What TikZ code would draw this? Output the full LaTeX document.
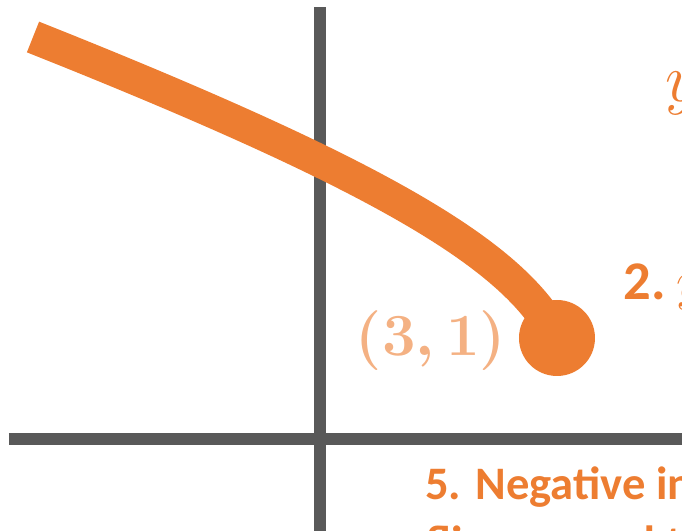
\RequirePackage{fix-cm}
\documentclass[tikz,border=0pt]{standalone}
\usepackage[no-math]{fontspec}
\setmainfont{Carlito}
\usepackage{tikz}
\usetikzlibrary{positioning}
\definecolor{axisgray}{HTML}{595959}
\definecolor{curveor}{HTML}{ED7D31}
\definecolor{pointor}{HTML}{F4B183}
\tikzset{
  axisline/.style ={draw=axisgray, line width=0.24cm},
  graphline/.style={draw=curveor, line width=0.66cm, line cap=butt},
  enddot/.style   ={circle, fill=curveor, minimum size=1.52cm, inner sep=0pt},
  ptlabel/.style  ={text=pointor, inner sep=0pt,
                    font=\fontsize{34}{38}\selectfont\boldmath},
  note/.style     ={text=curveor, inner sep=0pt, anchor=base west,
                    font=\fontsize{26.5}{31}\selectfont\bfseries},
  bignote/.style  ={note, font=\fontsize{31}{36}\selectfont\bfseries},
  ylab/.style     ={text=curveor, inner sep=0pt, anchor=base west,
                    font=\fontsize{39}{44}\selectfont},
}

\begin{document}
\begin{tikzpicture}
\useasboundingbox (-6.4,-1.84) rectangle (7.24,8.78);
\clip (-6.4,-1.84) rectangle (7.24,8.78);
% axes
\coordinate (xl) at (-6.22,0);
\coordinate (xr) at (7.6,0);
\coordinate (yb) at (0,-2.2);
\coordinate (yt) at (0,8.64);
\draw[axisline] (xl) -- (xr);
\draw[axisline] (yb) -- (yt);
% branch ending at the point (3,1)
\coordinate (start) at (-5.74,8.04);
\node[enddot] (endpt) at (4.74,2.02) {};
\draw[graphline] (start) .. controls (1.2,5.28) and (3.9,3.68) .. (endpt.center);
\node[ptlabel] (ptlab) at (2.22,1.96) {$(3,1)$};
% notes, cut off at the edge
\node[ylab] (ytop) at (6.9,6.74) {$y$};
\node[bignote] (step2) at (6.07,2.78) {2.\hspace{0.2em}$y$};
\node[note] (neg1) at (2.1,-1.22) {5. Negative in};
\node[note] (neg2) at (2.1,-2.4) {flips around th};
\end{tikzpicture}
\end{document}
